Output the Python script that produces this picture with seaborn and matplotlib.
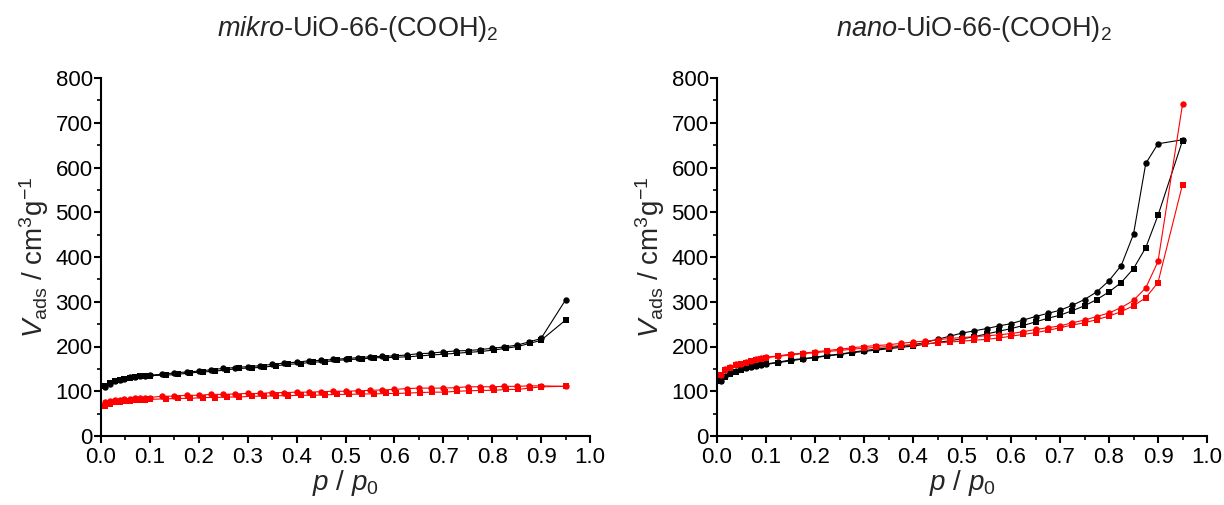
import numpy as np
import pandas as pd
import seaborn as sns
import matplotlib
matplotlib.use("Agg")
import matplotlib.pyplot as plt
from matplotlib.ticker import MultipleLocator, FormatStrFormatter

# ---------------- data ----------------
# left panel: mikro-UiO-66-(COOH)2
left_black_circ_x = [0.009, 0.018, 0.029, 0.039, 0.048, 0.059, 0.07, 0.08, 0.09, 0.1,
                     0.125, 0.15, 0.175, 0.2, 0.225, 0.25, 0.275, 0.3, 0.325, 0.35, 0.375,
                     0.4, 0.425, 0.45, 0.475, 0.5, 0.525, 0.55, 0.575, 0.6, 0.625, 0.65,
                     0.675, 0.7, 0.725, 0.75, 0.775, 0.8, 0.825, 0.85, 0.875, 0.9, 0.95]
left_black_circ_y = [110, 117, 122, 126, 128, 131, 132, 134, 135, 136,
                     138, 141, 143, 145, 148, 151, 153, 155, 157, 160, 163,
                     165, 168, 169, 171, 173, 175, 177, 178, 179, 181, 184,
                     185, 188, 190, 191, 193, 196, 199, 203, 210, 218, 304]
left_black_sq_x = [0.009, 0.018, 0.029, 0.039, 0.048, 0.059, 0.07, 0.08, 0.09, 0.1,
                   0.133, 0.158, 0.183, 0.208, 0.233, 0.258, 0.283, 0.308, 0.333, 0.358, 0.383,
                   0.408, 0.433, 0.458, 0.483, 0.508, 0.533, 0.558, 0.583, 0.603, 0.628, 0.652,
                   0.677, 0.703, 0.728, 0.753, 0.778, 0.803, 0.828, 0.852, 0.877, 0.9, 0.95]
left_black_sq_y = [112, 118, 122, 125, 128, 130, 132, 133, 134, 135,
                   136, 138, 141, 143, 145, 148, 151, 152, 154, 157, 160,
                   162, 165, 166, 169, 171, 172, 175, 175, 176, 177, 179,
                   181, 183, 185, 187, 189, 192, 196, 200, 207, 214, 259]
left_red_circ_x = left_black_circ_x
left_red_circ_y = [76, 79, 80, 81, 83, 83, 84, 85, 86, 86,
                   89, 89, 91, 91, 93, 93, 94, 95, 95, 97, 97,
                   98, 98, 99, 100, 100, 101, 102, 103, 104, 106, 107,
                   107, 107, 108, 110, 110, 110, 111, 111, 112, 112, 111]
left_red_sq_x = left_black_sq_x
left_red_sq_y = [66, 72, 76, 77, 78, 79, 80, 80, 81, 82,
                 83, 84, 84, 86, 86, 87, 87, 89, 89, 90, 90,
                 91, 91, 92, 93, 93, 94, 94, 95, 95, 96, 97,
                 98, 98, 100, 101, 102, 102, 104, 104, 107, 110, 111]

# right panel: nano-UiO-66-(COOH)2
right_x = [0.0075, 0.016, 0.027, 0.038, 0.048, 0.059, 0.069, 0.079, 0.089, 0.1,
           0.125, 0.15, 0.175, 0.2, 0.225, 0.25, 0.275, 0.3, 0.325, 0.35, 0.375,
           0.4, 0.425, 0.45, 0.475, 0.5, 0.525, 0.55, 0.575, 0.6, 0.625, 0.65,
           0.675, 0.7, 0.725, 0.75, 0.775, 0.8, 0.825, 0.85, 0.875, 0.9, 0.95]
right_black_circ_y = [124, 134, 140, 145, 149, 153, 155, 157, 159, 161,
                      165, 170, 173, 176, 180, 183, 187, 191, 194, 197, 201,
                      204, 209, 216, 223, 230, 235, 240, 246, 251, 259, 267,
                      274, 281, 292, 305, 322, 347, 381, 451, 609, 653, 662]
right_black_sq_y = [122, 132, 139, 144, 148, 152, 154, 156, 158, 160,
                    164, 168, 172, 175, 179, 182, 186, 189, 192, 195, 198,
                    201, 205, 209, 213, 217, 222, 228, 234, 240, 247, 255,
                    263, 270, 280, 291, 305, 322, 343, 374, 421, 493, 660]
right_red_circ_y = [137, 149, 155, 160, 162, 165, 168, 171, 174, 176,
                    179, 183, 185, 188, 191, 194, 197, 200, 202, 204, 207,
                    210, 212, 215, 218, 220, 222, 224, 226, 229, 233, 238,
                    242, 246, 253, 259, 267, 275, 287, 303, 331, 390, 741]
right_red_sq_y = [136, 147, 153, 158, 161, 164, 167, 170, 172, 175,
                  178, 181, 184, 186, 189, 191, 194, 196, 198, 200, 202,
                  204, 206, 208, 210, 212, 214, 216, 219, 223, 227, 231,
                  236, 242, 248, 253, 260, 268, 278, 291, 309, 343, 562]

titles = [r"$\it{mikro}$-UiO-66-(COOH)$_2$", r"$\it{nano}$-UiO-66-(COOH)$_2$"]
xlabel = r"$\it{p}$ / $\it{p}_{\rm 0}$"
ylabel = r"$\it{V}_{\rm ads}$ / cm$^3$g$^{-1}$"

# ---------------- style ----------------
sns.set_theme(style="ticks")
plt.rcParams["font.family"] = ["Liberation Sans", "DejaVu Sans"]
plt.rcParams["mathtext.fontset"] = "custom"
plt.rcParams["mathtext.rm"] = "Liberation Sans"
plt.rcParams["mathtext.it"] = "Liberation Sans:italic"
plt.rcParams["mathtext.bf"] = "Liberation Sans:bold"

fig = plt.figure(figsize=(12.24, 5.05), dpi=100)
ax_l = fig.add_axes([101 / 1224, 69 / 505, 489 / 1224, 358 / 505])
ax_r = fig.add_axes([717 / 1224, 69 / 505, 490 / 1224, 358 / 505])

series_left = [
    (left_black_sq_x, left_black_sq_y, "black", "s"),
    (left_black_circ_x, left_black_circ_y, "black", "o"),
    (left_red_sq_x, left_red_sq_y, "#ff0000", "s"),
    (left_red_circ_x, left_red_circ_y, "#ff0000", "o"),
]
series_right = [
    (right_x, right_black_sq_y, "black", "s"),
    (right_x, right_black_circ_y, "black", "o"),
    (right_x, right_red_sq_y, "#ff0000", "s"),
    (right_x, right_red_circ_y, "#ff0000", "o"),
]

for ax, series, title, tx in [(ax_l, series_left, titles[0], 358 / 1224),
                              (ax_r, series_right, titles[1], 974 / 1224)]:
    for xs, ys, col, mk in series:
        df = pd.DataFrame({"x": xs, "y": ys})
        sns.lineplot(data=df, x="x", y="y", ax=ax, color=col, marker=mk,
                     markersize=4.6 if mk == "o" else 4.3, markeredgewidth=0,
                     linewidth=0.8, estimator=None, sort=False)
    ax.set_xlim(0, 1.0)
    ax.set_ylim(0, 800)
    ax.xaxis.set_major_locator(MultipleLocator(0.1))
    ax.xaxis.set_minor_locator(MultipleLocator(0.05))
    ax.yaxis.set_major_locator(MultipleLocator(100))
    ax.yaxis.set_minor_locator(MultipleLocator(50))
    ax.xaxis.set_major_formatter(FormatStrFormatter("%.1f"))
    sns.despine(ax=ax)
    for s in ["left", "bottom"]:
        ax.spines[s].set_linewidth(1.5)
        ax.spines[s].set_color("black")
    ax.tick_params(which="major", direction="out", length=5, width=1.5,
                   labelsize=16, colors="black")
    ax.tick_params(axis="y", which="major", pad=1)
    ax.tick_params(axis="x", which="major", pad=3)
    ax.tick_params(which="minor", direction="out", length=3, width=1.2,
                   colors="black")
    ax.set_xlabel(xlabel, fontsize=20, labelpad=0)
    ax.set_ylabel(ylabel, fontsize=20, labelpad=3)
    fig.text(tx, 1 - 36 / 505, title, fontsize=19.5, ha="center", va="baseline")

fig.savefig("out.png", dpi=100, facecolor="white")
